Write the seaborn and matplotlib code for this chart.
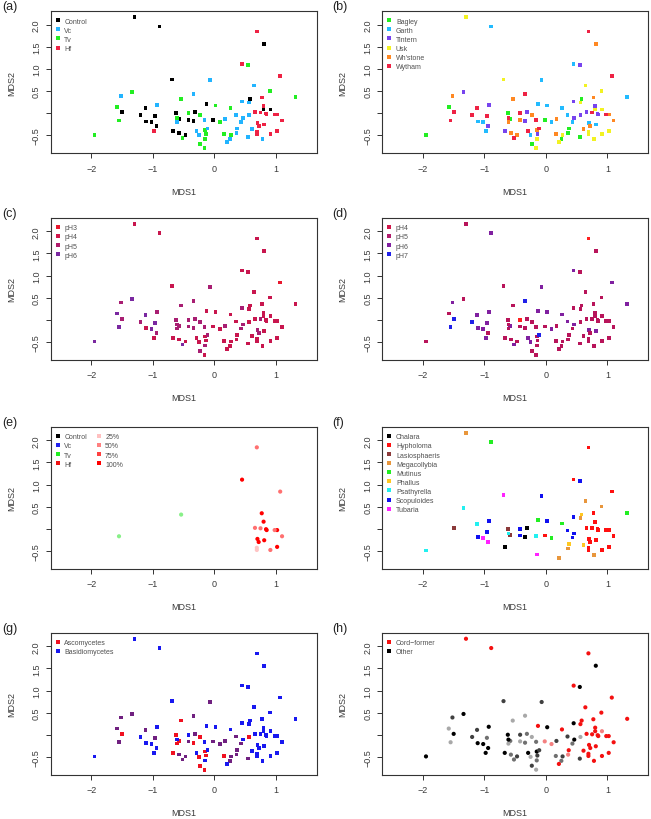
import matplotlib
matplotlib.use("Agg")
import matplotlib.pyplot as plt
from matplotlib.lines import Line2D
import pandas as pd
import seaborn as sns

# ---------------- data (one entry per sample, grouped by site) ----------------
site_names = ["Bagley", "Garth", "Tintern", "Usk", "Wh'stone", "Wytham"]
site_counts = [11, 16, 15, 16, 16, 16]

mds1 = [-1.95, -1.58, -0.62, -0.58, -0.02, 0.58, 0.37, 0.36, 0.25, 0.55, -0.23,
        -0.89, 0.45, -0.07, 1.32, -0.13, 0.02, 0.26, 0.35, 0.09, -1.11, -1.02, -0.98, -0.25, 0.43, 0.70, 0.81,
        -1.34, -0.93, -0.94, -0.67, -0.34, -0.31, -0.14, 0.55, 0.45, 0.46, 0.56, 0.66, 0.80, 0.84, 0.85,
        -1.30, -0.69, 0.64, 0.90, 0.56, 0.80, 0.91, -0.15, -0.16, 0.21, 0.27, 0.69, 0.69, 0.78, 0.91, 1.02,
        -1.52, -0.54, -0.23, -0.42, -0.57, -0.47, -0.15, 0.17, 0.16, 0.61, 0.72, 0.77, 0.81, 1.02, 1.10, -0.61,
        0.69, 1.07, -0.34, -1.12, -1.50, -1.20, -0.96, -1.55, -0.61, -0.42, -0.11, -0.29, -0.52, -0.16, 0.75, 0.98]
mds2 = [-0.49, 0.14, 0.00, -0.14, -0.15, 0.32, -0.35, -0.45, -0.59, -0.54, -0.70,
        1.96, 1.11, 0.74, 0.36, 0.20, 0.17, 0.12, -0.04, -0.21, -0.19, -0.21, -0.41, -0.50, -0.20, -0.23, -0.26,
        0.47, 0.18, -0.30, -0.41, -0.18, 0.02, -0.47, 1.08, 0.26, -0.11, -0.05, 0.02, 0.16, -0.01, -0.03,
        2.17, 0.76, 0.62, 0.50, 0.24, 0.08, 0.08, -0.58, -0.79, -0.66, -0.49, -0.43, -0.48, -0.59, -0.48, -0.41,
        0.39, 0.32, -0.05, -0.15, -0.45, -0.49, -0.38, -0.14, -0.48, -0.36, -0.30, 0.35, 1.56, -0.03, -0.17, -0.20,
        1.84, 0.84, 0.43, 0.11, 0.02, -0.05, -0.07, -0.17, -0.11, 0.00, -0.35, -0.41, -0.56, -0.16, 0.01, -0.03]

treatment = (["Tv", "Tv", "Control", "Control", "Control", "Control", "Vc", "Vc", "Vc", "Vc", "Tv"]
             + ["Control", "Hf", "Vc", "Tv", "Control", "Tv", "Tv", "Vc", "Tv", "Control", "Control", "Hf", "Vc", "Vc", "Hf", "Hf"]
             + ["Tv", "Vc", "Control", "Control", "Control", "Control", "Tv", "Tv", "Vc", "Vc", "Vc", "Hf", "Hf", "Hf", "Hf"]
             + ["Control", "Control", "Vc", "Tv", "Vc", "Control", "Control", "Tv", "Tv", "Vc", "Tv", "Hf", "Hf", "Vc", "Hf", "Hf"]
             + ["Vc", "Tv", "Tv", "Control", "Control", "Control", "Tv", "Vc", "Tv", "Vc", "Hf", "Hf", "Control", "Hf", "Hf", "Vc"]
             + ["Hf", "Hf", "Vc", "Control", "Control", "Control", "Control", "Tv", "Tv", "Tv", "Vc", "Vc", "Tv", "Vc", "Hf", "Hf"])

# pH shading, panel (c): r=pH3, c=pH4, m=pH5, p=pH6
ph_c = list("ppmmccccccm" + "ccmcccccccpccmmc" + "pmmcmmccmmccccc"
            + "cccccccmcccccccc" + "mmmmcccmccmccccm" + "crmpmmppmmmcpmmc")
# pH shading, panel (d): r=red, c=pH4/5, p=pH6, b=pH7
ph_d = list("cccpccccccc" + "pppppppppppppcpp" + "cpcccccccpccccc"
            + "cccccccccccccccc" + "pccccccccccccccc" + "rpbpbbpbcrbppccc")

# inoculum retained, panel (e)
inoc = ([None] * 11
        + [None, "100%", None, None, None, None, None, None, None, None, None, None, None, None, "100%", "100%"]
        + [None] * 11 + ["50%", "100%", "100%", "100%"]
        + [None] * 11 + ["25%", "25%", None, "50%", "100%"]
        + [None, "Tv", None, None, None, None, None, None, None, None, "100%", "100%", None, "100%", "50%", None]
        + ["50%", "50%", None, None, None, None, None, "Tv", None, None, None, None, None, None, "50%", "50%"])

# dominant genus, panel (f)
genus = (["Psathyrella", None, "Lasiosphaeris", "Lasiosphaeris", "Hypholoma", "Phallus", "Phallus", "Megacollybia", None, None, None]
         + ["Mutinus", "Hypholoma", "Scopuloides", "Mutinus", "Mutinus", "Scopuloides", "Mutinus", "Scopuloides", "Mutinus",
            "Scopuloides", "Tubaria", None, None, "Scopuloides", "Hypholoma", "Hypholoma"]
         + ["Psathyrella", "Scopuloides", "Tubaria", "Chalara", "Chalara", "Chalara", None, "Scopuloides", "Scopuloides",
            "Scopuloides", None, "Hypholoma", "Hypholoma", "Hypholoma", "Hypholoma"]
         + ["Megacollybia", "Tubaria", "Megacollybia", "Megacollybia", "Megacollybia", None, None, "Tubaria", None,
            "Megacollybia", None, "Hypholoma", "Hypholoma", "Megacollybia", "Hypholoma", "Hypholoma"]
         + [None, None, None, "Scopuloides", None, None, None, None, None, "Phallus", "Hypholoma", "Hypholoma", None,
            "Hypholoma", "Hypholoma", None]
         + ["Hypholoma", "Hypholoma", None, "Psathyrella", "Lasiosphaeris", None, "Scopuloides", None, "Psathyrella",
            "Scopuloides", None, None, None, "Psathyrella", "Hypholoma", "Hypholoma"])

# phylum mix, panel (g): A=Ascomycetes, B=Basidiomycetes, M=mixed
phylum = list("BMAAMBMMMMA" + "BBMBBBBMMBBBAMBB" + "MBBAAMABBBABBBB"
              + "BBBBBBBBABMBBBBB" + "MAAMMMAMABBBBBBA" + "BBMMABMMBBBBMBBB")

# cord-former share, panel (h): R red, P pink, K black, D dark grey, G grey, L light grey
cord = list("KLKGPRRPGDD" + "RRDRRKRDPKKKLGRR" + "KKKKGGDKKKLRRRR"
            + "RDRRRRPGLRDRRRRR" + "DLLLGDKDGRRRKRRL" + "RRLDKDGLKDDKGGRR")

site = [s for s, n in zip(site_names, site_counts) for _ in range(n)]

df = pd.DataFrame({"MDS1": mds1, "MDS2": mds2, "site": site, "treatment": treatment,
                   "ph_c": ph_c, "ph_d": ph_d, "inoc": inoc, "genus": genus,
                   "phylum": phylum, "cord": cord})

# ---------------- styling ----------------
sns.set_style("white")
plt.rcParams['font.family'] = ['Liberation Sans', 'DejaVu Sans']

TXT = '#3a3a3a'
LEGTXT = '#505050'

fig = plt.figure(figsize=(6.51, 8.2), dpi=100)

lefts = [50.7 / 651, 382.3 / 651]
tops_px = [12.3, 219.0, 428.0, 634.0]
W = 265.8 / 651
Hpx = 142.0


def make_ax(row, col, letter):
    top = tops_px[row]
    ax = fig.add_axes([lefts[col], 1 - (top + Hpx) / 820, W, Hpx / 820])
    fig.text(2 / 651 if col == 0 else 332 / 651, 1 - (top - 5) / 820, letter,
             ha='left', va='center', fontsize=9, color='#222222')
    return ax


def finish(ax):
    ax.set_xlim(-2.66, 1.66)
    ax.set_ylim(-0.91, 2.30)
    ax.set_xticks([-2, -1, 0, 1])
    ax.set_xticklabels(['\u22122', '\u22121', '0', '1'])
    ax.set_yticks([-0.5, 0, 0.5, 1.0, 1.5, 2.0])
    ax.set_yticklabels(['\u22120.5', '', '0.5', '1.0', '1.5', '2.0'])
    for t in ax.get_yticklabels():
        t.set_rotation(90)
        t.set_va('center')
    ax.tick_params(axis='both', length=3.5, width=0.7, colors='#333333', labelcolor=TXT,
                   labelsize=6.5, direction='out', bottom=True, left=True)
    ax.tick_params(axis='x', pad=4)
    ax.tick_params(axis='y', pad=3.5)
    for s in ax.spines.values():
        s.set_color('#333333')
        s.set_linewidth(0.8)
    ax.set_xlabel('MDS1', fontsize=6.5, color=TXT)
    ax.set_ylabel('MDS2', fontsize=6.5, color=TXT)
    ax.xaxis.set_label_coords(0.5, -0.235)
    ax.yaxis.set_label_coords(-0.131, 0.5)


def add_legend(ax, labels, colors, ncol=1):
    handles = [Line2D([], [], marker='s', linestyle='none', markersize=2.2,
                      markerfacecolor=c, markeredgewidth=0) for c in colors]
    leg = ax.legend(handles, labels, loc='upper left', bbox_to_anchor=(0.016, 0.955),
                    frameon=False, fontsize=5, handlelength=0.8, handletextpad=0.55,
                    labelspacing=0.30, borderpad=0, borderaxespad=0, ncol=ncol,
                    columnspacing=1.25)
    for t in leg.get_texts():
        t.set_color(LEGTXT)


def scatter(ax, col, palette, marker='s', size=7):
    d = df[df[col].notna()]
    sns.scatterplot(data=d, x='MDS1', y='MDS2', hue=col, palette=palette, marker=marker,
                    s=size, linewidth=0, legend=False, ax=ax)


# (a) treatment
trt_levels = ["Control", "Vc", "Tv", "Hf"]
trt_colors = {"Control": "#000000", "Vc": "#22B4FF", "Tv": "#22EE22", "Hf": "#EE2244"}
ax = make_ax(0, 0, '(a)')
scatter(ax, 'treatment', trt_colors)
finish(ax)
add_legend(ax, trt_levels, [trt_colors[k] for k in trt_levels])

# (b) site
site_colors = {"Bagley": "#22EE22", "Garth": "#22BBFF", "Tintern": "#7744EE",
               "Usk": "#F2F222", "Wh'stone": "#FF8822", "Wytham": "#EE2244"}
ax = make_ax(0, 1, '(b)')
scatter(ax, 'site', site_colors)
finish(ax)
add_legend(ax, site_names, [site_colors[k] for k in site_names])

# (c) pH 3-6
phc_colors = {"r": "#E8182E", "c": "#C8164E", "m": "#A81E72", "p": "#7A28A0"}
ax = make_ax(1, 0, '(c)')
scatter(ax, 'ph_c', phc_colors)
finish(ax)
add_legend(ax, ["pH3", "pH4", "pH5", "pH6"], ["#E8182E", "#D0164A", "#B01C6C", "#7A28A0"])

# (d) pH 4-7
phd_colors = {"r": "#FF2020", "c": "#B8145A", "p": "#8020A0", "b": "#2020E8"}
ax = make_ax(1, 1, '(d)')
scatter(ax, 'ph_d', phd_colors)
finish(ax)
add_legend(ax, ["pH4", "pH5", "pH6", "pH7"], ["#D0164A", "#B01C6C", "#8020A0", "#2020E8"])

# (e) inoculum retained
inoc_colors = {"25%": "#FFC4C4", "50%": "#FF7070", "75%": "#FF4040", "100%": "#FF0000", "Tv": "#88F088"}
ax = make_ax(2, 0, '(e)')
scatter(ax, 'inoc', inoc_colors, marker='o', size=9)
finish(ax)
add_legend(ax, ["Control", "Vc", "Tv", "Hf", "25%", "50%", "75%", "100%"],
           ["#000000", "#2222EE", "#22EE22", "#EE1111", "#FFC0C0", "#FF8080", "#FF4040", "#FF0000"], ncol=2)

# (f) genus
genus_levels = ["Chalara", "Hypholoma", "Lasiosphaeris", "Megacollybia", "Mutinus",
                "Phallus", "Psathyrella", "Scopuloides", "Tubaria"]
genus_colors = {"Chalara": "#000000", "Hypholoma": "#FF1010", "Lasiosphaeris": "#8B3A3A",
                "Megacollybia": "#E8963C", "Mutinus": "#22EE22", "Phallus": "#FFC820",
                "Psathyrella": "#22F0F0", "Scopuloides": "#1010F0", "Tubaria": "#FF22FF"}
ax = make_ax(2, 1, '(f)')
scatter(ax, 'genus', genus_colors)
finish(ax)
add_legend(ax, genus_levels, [genus_colors[k] for k in genus_levels])

# (g) phylum
phylum_colors = {"A": "#F01020", "B": "#1818F0", "M": "#702080"}
ax = make_ax(3, 0, '(g)')
scatter(ax, 'phylum', phylum_colors)
finish(ax)
add_legend(ax, ["Ascomycetes", "Basidiomycetes"], ["#F01020", "#1818F0"])

# (h) cord-formers
cord_colors = {"R": "#F41010", "P": "#F48080", "K": "#000000", "D": "#404040", "G": "#707070", "L": "#A8A8A8"}
ax = make_ax(3, 1, '(h)')
scatter(ax, 'cord', cord_colors, marker='o', size=9)
finish(ax)
add_legend(ax, ["Cord\u2212former", "Other"], ["#F41010", "#000000"])

fig.savefig("out.png", dpi=100)
